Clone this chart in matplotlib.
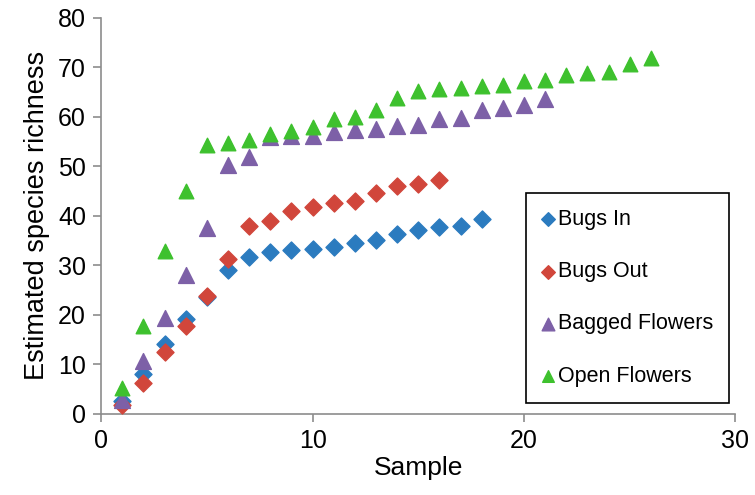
import matplotlib
matplotlib.use('Agg')
import matplotlib.pyplot as plt

plt.rcParams['font.family'] = ['Liberation Sans', 'DejaVu Sans']

# sample numbers and estimated richness for each treatment
bugs_in_x = list(range(1, 19))
bugs_in = [2.5, 8.1, 14.1, 19.1, 23.7, 29.1, 31.7, 32.7, 33.0, 33.2, 33.8, 34.6, 35.1, 36.3, 37.1, 37.8, 38.0, 39.3]

bugs_out_x = list(range(1, 17))
bugs_out = [1.8, 6.2, 12.4, 17.8, 23.9, 31.2, 37.9, 39.0, 41.0, 41.8, 42.6, 43.0, 44.7, 46.0, 46.5, 47.2]

bagged_x = list(range(1, 22))
bagged = [2.8, 10.6, 19.4, 28.0, 37.5, 50.2, 51.9, 56.0, 56.2, 56.2, 57.0, 57.3, 57.6, 58.2, 58.3, 59.5, 59.7, 61.3, 61.7, 62.3, 63.5]

open_x = list(range(1, 27))
open_fl = [5.2, 17.8, 32.8, 45.0, 54.3, 54.8, 55.4, 56.5, 57.2, 58.0, 59.5, 60.0, 61.3, 63.9, 65.2, 65.7, 65.9, 66.2, 66.4, 67.3, 67.5, 68.4, 68.9, 69.1, 70.6, 71.8]

fig = plt.figure(figsize=(7.55, 4.95), dpi=100)
ax = fig.add_axes([0.134, 0.164, 0.84, 0.80])

ax.scatter(bugs_in_x, bugs_in, marker='D', s=75, color='#2B7BBF', label='Bugs In', zorder=3)
ax.scatter(bugs_out_x, bugs_out, marker='D', s=75, color='#D1463B', label='Bugs Out', zorder=3)
ax.scatter(bagged_x, bagged, marker='^', s=130, color='#7D60A7', label='Bagged Flowers', zorder=3)
ax.scatter(open_x, open_fl, marker='^', s=110, color='#3EC12E', label='Open Flowers', zorder=3)

ax.set_xlim(0, 30)
ax.set_ylim(0, 80)
ax.set_xticks([0, 10, 20, 30])
ax.set_yticks(range(0, 81, 10))

for s in ['top', 'right']:
    ax.spines[s].set_visible(False)
for s in ['left', 'bottom']:
    ax.spines[s].set_color('#8C8C8C')
    ax.spines[s].set_linewidth(1.2)
ax.tick_params(colors='#8C8C8C', labelcolor='black', labelsize=18, length=6, width=1.2,
               direction='out', pad=5)

ax.set_xlabel('Sample', fontsize=19, labelpad=2)
ax.set_ylabel('Estimated species richness', fontsize=19.5, labelpad=6)

leg = ax.legend(loc='lower right', bbox_to_anchor=(0.9905, 0.028), borderaxespad=0, fontsize=15.5,
                markerscale=0.8, handletextpad=0.15, handlelength=0.6, labelspacing=1.45,
                borderpad=0.75, fancybox=False, edgecolor='black', framealpha=1)
leg.get_frame().set_linewidth(1.2)

fig.savefig('out.png', dpi=100)
